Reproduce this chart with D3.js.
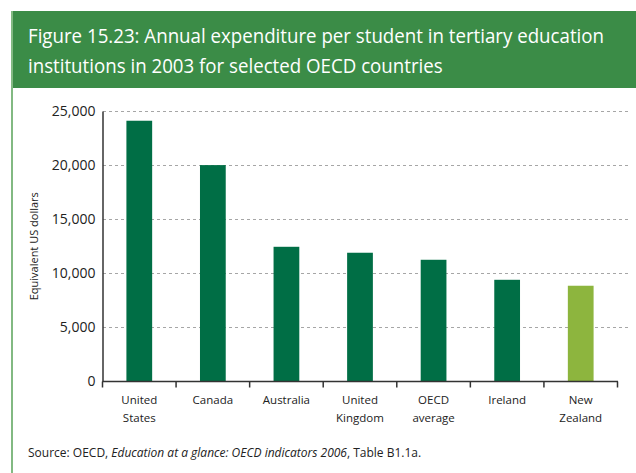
<!DOCTYPE html>
<html>
<head>
<meta charset="utf-8">
<script src="https://cdn.jsdelivr.net/npm/d3@7"></script>
<style>
  html, body { margin: 0; padding: 0; background: #fff; }
  svg { display: block; }
</style>
</head>
<body>
<svg id="chart" width="636" height="473"></svg>
<script>
// Annual expenditure per student, tertiary institutions, 2003 (equivalent US dollars)
const categories = ["United States", "Canada", "Australia", "United Kingdom", "OECD average", "Ireland", "New Zealand"];
const labelLines = [["United", "States"], ["Canada"], ["Australia"], ["United", "Kingdom"], ["OECD", "average"], ["Ireland"], ["New", "Zealand"]];
const values = [24100, 20000, 12450, 11900, 11250, 9400, 8850];
const highlight = "New Zealand";
const yTicks = [0, 5000, 10000, 15000, 20000, 25000];
const titleLines = [
  "Figure 15.23: Annual expenditure per student in tertiary education",
  "institutions in 2003 for selected OECD countries"
];
const sourceText = ["Source: OECD, ", "Education at a glance: OECD indicators 2006", ", Table B1.1a."];

const svg = d3.select("#chart");
const font = "'Open Sans', 'Noto Sans', sans-serif";

// Frame: header band and left rule
svg.append("rect").attr("x", 11).attr("y", 11).attr("width", 625).attr("height", 77).attr("fill", "#3b8c47");
svg.append("line").attr("x1", 12).attr("x2", 12).attr("y1", 11).attr("y2", 473)
  .attr("stroke", "#82b982").attr("stroke-width", 2);

// Title in a condensed setting: first line spans the band, second uses the same squeeze
const titleWidth = 576;
const titleEls = titleLines.map((t, i) => svg.append("text")
  .attr("x", 28).attr("y", 43 + i * 29.5)
  .attr("font-family", font).attr("font-size", 19.5).attr("fill", "#ffffff")
  .text(t));
const squeeze = titleWidth / titleEls[0].node().getComputedTextLength();
titleEls.forEach(el => {
  const w = el.node().getComputedTextLength() * squeeze;
  el.attr("textLength", w).attr("lengthAdjust", "spacingAndGlyphs");
});

// Scales
const x = d3.scaleBand().domain(categories).range([102.5, 617.5]).paddingInner(0.65).paddingOuter(0.325);
const y = d3.scaleLinear().domain([0, 25000]).range([381.5, 111]);

// Gridlines
svg.append("g").selectAll("line").data(yTicks.filter(d => d > 0)).join("line")
  .attr("x1", 103).attr("x2", 630)
  .attr("y1", d => Math.round(y(d)) + 0.5).attr("y2", d => Math.round(y(d)) + 0.5)
  .attr("stroke", "#a6a6a6").attr("stroke-width", 1.2).attr("stroke-dasharray", "3,3");

// Bars
svg.append("g").selectAll("rect").data(categories).join("rect")
  .attr("x", d => x(d)).attr("width", x.bandwidth())
  .attr("y", (d, i) => y(values[i])).attr("height", (d, i) => y(0) - y(values[i]))
  .attr("fill", d => d === highlight ? "#8db53e" : "#006e45");

// Y axis
const yAxis = d3.axisLeft(y).tickValues(yTicks).tickSize(0).tickPadding(7).tickFormat(d3.format(","));
const gy = svg.append("g").attr("transform", "translate(102.5,0)").call(yAxis);
gy.select(".domain").attr("stroke", "#333").attr("stroke-width", 1.5);
gy.selectAll("text").attr("font-family", font).attr("font-size", 14).attr("fill", "#222");

svg.append("text")
  .attr("transform", `translate(38,${(y(0) + y(25000)) / 2}) rotate(-90)`)
  .attr("text-anchor", "middle").attr("font-family", font).attr("font-size", 11).attr("fill", "#222")
  .text("Equivalent US dollars");

// X axis with ticks at band boundaries
const gx = svg.append("g");
gx.append("line").attr("x1", 102.5).attr("x2", 618).attr("y1", y(0)).attr("y2", y(0))
  .attr("stroke", "#333").attr("stroke-width", 1.5);
const bounds = categories.map(c => x(c) - x.step() * 0.325).concat([x(categories[categories.length - 1]) + x.bandwidth() + x.step() * 0.325]);
gx.selectAll("line.tick").data(bounds).join("line").attr("class", "tick")
  .attr("x1", d => d).attr("x2", d => d).attr("y1", y(0)).attr("y2", y(0) + 6)
  .attr("stroke", "#333").attr("stroke-width", 1.5);

const lbl = gx.selectAll("text").data(categories).join("text")
  .attr("text-anchor", "middle").attr("font-family", font).attr("font-size", 11.5).attr("fill", "#222");
lbl.each(function(d, i) {
  const t = d3.select(this);
  labelLines[i].forEach((s, j) => {
    t.append("tspan").attr("x", x(d) + x.bandwidth() / 2).attr("y", 404 + j * 18).text(s);
  });
});

// Source note
const src = svg.append("text").attr("x", 28).attr("y", 457)
  .attr("font-family", font).attr("font-size", 12).attr("fill", "#222");
src.append("tspan").text(sourceText[0]);
src.append("tspan").attr("font-style", "italic").text(sourceText[1]);
src.append("tspan").text(sourceText[2]);
</script>
</body>
</html>
